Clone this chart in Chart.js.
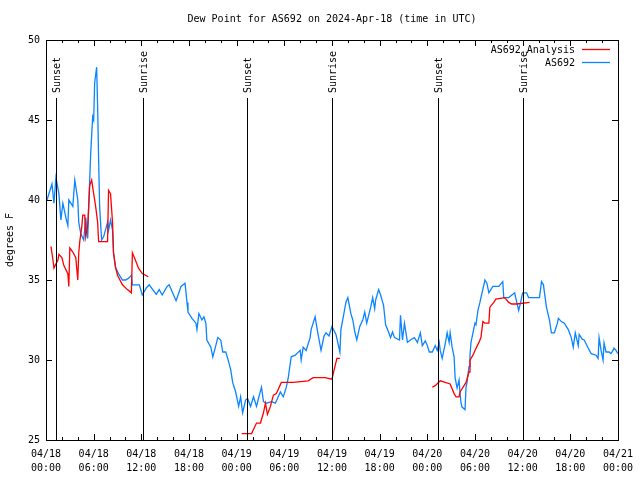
<!DOCTYPE html>
<html>
<head>
<meta charset="utf-8">
<style>
  html, body { margin: 0; padding: 0; background: #fff; }
  #wrap { width: 640px; height: 480px; }
</style>
<script src="https://cdn.jsdelivr.net/npm/chart.js@4/dist/chart.umd.min.js"></script>
</head>
<body>
<div id="wrap"><canvas id="chart" width="640" height="480"></canvas></div>
<script>
'use strict';

// hours since 2024-04-18 00:00 UTC
var blueHours = [0.125, 0.75, 1.0, 1.25, 1.625, 1.875, 2.125, 2.5, 2.75, 2.875, 3.375, 3.625, 4.0, 4.125, 4.375, 4.75, 5.0, 5.25, 5.375, 5.625,
  5.875, 6.0, 6.125, 6.375, 6.5, 6.625, 6.75, 7.0, 7.25, 7.75, 7.875, 8.125, 8.375, 8.5, 8.75, 9.125, 9.625, 10, 10.375, 10.75,
  10.875, 11.75, 12.125, 12.625, 13, 13.875, 14.25, 14.625, 15.25, 15.5, 16.375, 17, 17.5, 17.75, 17.875, 18.375, 18.875, 19, 19.25, 19.625,
  19.875, 20.125, 20.25, 20.75, 21, 21.375, 21.625, 22, 22.25, 22.625, 22.875, 23.25, 23.5, 23.875, 24.25, 24.5, 24.75, 25.125, 25.375, 25.75,
  26.125, 26.5, 26.75, 27.125, 27.375, 27.75, 28.375, 28.875, 29.5, 29.875, 30.25, 30.5, 30.75, 30.875, 31.375, 32, 32.125, 32.375, 32.75, 33.25,
  33.375, 33.875, 34.25, 34.625, 35, 35.25, 35.625, 36, 36.5, 37, 37.125, 37.5, 37.75, 38, 38.375, 38.625, 38.875, 39.125, 39.5, 39.875,
  40.125, 40.375, 40.875, 41.125, 41.375, 41.5, 41.875, 42.125, 42.5, 42.75, 43, 43.375, 43.625, 43.875, 44.5, 44.625, 44.875, 45.125, 45.5, 46,
  46.375, 46.75, 47.125, 47.375, 47.75, 48, 48.25, 48.625, 49, 49.25, 49.5, 49.625, 49.875, 50.25, 50.5, 50.75, 50.875, 51.125, 51.375, 51.5,
  51.75, 52, 52.125, 52.25, 52.375, 52.75, 52.875, 53, 53.25, 53.375, 53.5, 53.75, 54, 54.125, 54.375, 54.625, 54.75, 55.125, 55.25, 55.5,
  55.75, 56, 56.25, 57, 57.5, 57.625, 58.25, 59, 59.125, 59.5, 59.75, 60, 60.5, 60.75, 62.125, 62.375, 62.625, 62.75, 63, 63.375,
  63.625, 64, 64.375, 64.5, 64.875, 65.25, 65.75, 66.125, 66.375, 66.625, 67, 67.125, 67.5, 67.75, 68.25, 68.625, 69.25, 69.5, 69.625, 69.875,
  70.125, 70.25, 70.5, 70.875, 71.125, 71.375, 71.5, 71.75, 72];
var blueValues = [40, 41, 39.8, 41.4, 40.4, 38.75, 39.8, 38.9, 38.4, 40, 39.6, 41.25, 40, 38.6, 37.9, 37.5, 38.9, 37.6, 39.6, 42.9,
  45.2, 45, 47.3, 48.3, 45.8, 42.5, 39.6, 37.5, 37.7, 38.6, 38.1, 38.75, 38.1, 36.7, 35.8, 35.4, 35, 35, 35.1, 35.3,
  34.7, 34.7, 34.06, 34.5, 34.7, 34.1, 34.4, 34.06, 34.6, 34.7, 33.7, 34.6, 34.8, 33.6, 33, 32.6, 32.3, 31.9, 32.9, 32.5,
  32.7, 32.3, 31.25, 30.8, 30.2, 30.9, 31.4, 31.25, 30.5, 30.5, 30.1, 29.4, 28.6, 28, 27.1, 27.7, 26.7, 27.5, 27.6, 27.1,
  27.7, 27.1, 27.6, 28.3, 27.4, 27.3, 27.4, 27.3, 28, 27.7, 28.3, 28.9, 29.8, 30.2, 30.3, 30.6, 30, 30.8, 30.6, 31.4,
  31.9, 32.7, 31.6, 30.6, 31.5, 31.7, 31.5, 32.1, 31.6, 30.5, 31.9, 32.9, 33.6, 33.9, 32.9, 32.5, 31.75, 31.25, 32.1, 32.5,
  33, 32.3, 33.3, 33.9, 33.2, 33.75, 34.4, 34.06, 33.4, 32.2, 31.9, 31.4, 31.75, 31.4, 31.25, 32.8, 31.25, 32.3, 31.1, 31.3,
  31.4, 31.1, 31.7, 30.9, 31.2, 30.9, 30.5, 30.5, 30.9, 30.6, 31.1, 30.6, 30.1, 31, 31.7, 31.1, 31.7, 30.8, 30.2, 28.9,
  28.25, 28.75, 27.9, 27.3, 27.06, 26.9, 28.3, 28.6, 29.6, 30.3, 31.1, 31.7, 32.3, 32.2, 33.1, 33.6, 33.9, 34.7, 35, 34.8,
  34.2, 34.4, 34.6, 34.6, 34.9, 33.9, 33.9, 34.2, 33.9, 33.1, 33.6, 34.2, 34.2, 33.9, 33.9, 34.9, 34.7, 34.2, 33.3, 32.5,
  31.7, 31.7, 32.3, 32.6, 32.4, 32.3, 31.9, 31.4, 30.8, 31.7, 30.9, 31.6, 31.3, 31.25, 30.75, 30.4, 30.3, 30.1, 31.4, 30.6,
  30, 31.06, 30.5, 30.5, 30.4, 30.6, 30.75, 30.6, 30.4];

// null values break the analysis line into its three runs
var redHours = [0.625, 0.875, 1.0, 1.5, 1.625, 2.0, 2.25, 2.75, 2.875, 3.0, 3.375, 3.75, 4.0, 4.125, 4.25, 4.5, 4.625, 4.875, 5.0, 5.25,
  5.375, 5.5, 5.75, 5.875, 6.25, 6.5, 6.625, 7.75, 7.875, 8.125, 8.375, 8.5, 8.75, 9.0, 9.625, 10.25, 10.75, 10.875, 11.25, 11.625,
  12.125, 12.875, 18,
  24.625, 25.875, 26.5, 27, 27.375, 27.625, 27.875, 28.25, 28.625, 29, 29.625, 31.125, 33, 33.625, 35.125, 36, 36.375, 36.625, 37, 42,
  48.625, 49, 49.625, 50.25, 50.875, 51.375, 51.625, 52, 52.125, 52.625, 52.875, 53.25, 53.375, 53.75, 54, 54.5, 54.75, 55, 55.25, 55.75,
  55.875, 56.375, 56.625, 57.75, 58.25, 58.625, 59.25, 60.875];
var redValues = [37.1, 36.25, 35.75, 36.25, 36.6, 36.4, 35.9, 35.4, 34.6, 37, 36.75, 36.4, 35, 36.7, 37.4, 38.3, 39.06, 39.06, 37.7, 38.4,
  39.6, 40.9, 41.25, 40.8, 39.6, 38.6, 37.4, 37.4, 40.6, 40.4, 38.6, 36.7, 35.8, 35.3, 34.7, 34.4, 34.2, 36.7, 36.25, 35.75,
  35.4, 35.2, null,
  25.4, 25.4, 26.06, 26.06, 26.7, 27.3, 26.6, 27.1, 27.8, 27.9, 28.6, 28.6, 28.7, 28.9, 28.9, 28.8, 29.6, 30.1, 30.1, null,
  28.3, 28.4, 28.7, 28.6, 28.5, 27.9, 27.7, 27.7, 28, 28.4, 28.6, 29.25, 30, 30.3, 30.6, 31.1, 31.4, 32.4, 32.3, 32.3,
  33.3, 33.6, 33.8, 33.9, 33.6, 33.5, 33.5, 33.6];

var eventHours = [1.25, 12.17, 25.29, 36.0, 49.33, 60.04];
var eventLabels = ['Sunset', 'Sunrise', 'Sunset', 'Sunrise', 'Sunset', 'Sunrise'];

var xTicks = [0, 6, 12, 18, 24, 30, 36, 42, 48, 54, 60, 66, 72];
var yTicks = [25, 30, 35, 40, 45, 50];

var FONT = '10px "DejaVu Sans Mono", "Liberation Mono", monospace';

function zip(xs, ys) {
    return xs.map(function(x, i) { return { x: x, y: ys[i] }; });
}

function tickLabel(h) {
    var day = 18 + Math.floor(h / 24);
    var hh = h % 24;
    return ['04/' + day, (hh < 10 ? '0' : '') + hh + ':00'];
}

// border, inward tics, sun events, legend and titles (gnuplot look)
var gnuFrame = {
    id: 'gnuFrame',
    afterDraw: function(chart) {
        var ctx = chart.ctx;
        var a = chart.chartArea;
        var xs = chart.scales.x;
        var ys = chart.scales.y;
        var L = Math.round(a.left), R = Math.round(a.right), T = Math.round(a.top), B = Math.round(a.bottom);

        ctx.save();
        ctx.strokeStyle = '#000';
        ctx.lineWidth = 1;
        ctx.strokeRect(L + 0.5, T + 0.5, R - L, B - T);

        ctx.beginPath();
        for (var h = 0; h <= 72; h += 2) {
            var px = Math.round(xs.getPixelForValue(h)) + 0.5;
            var len = (h % 6 === 0) ? 6 : 3;
            ctx.moveTo(px, B); ctx.lineTo(px, B - len);
            ctx.moveTo(px, T); ctx.lineTo(px, T + len);
        }
        yTicks.forEach(function(v) {
            var py = Math.round(ys.getPixelForValue(v)) + 0.5;
            ctx.moveTo(L, py); ctx.lineTo(L + 6, py);
            ctx.moveTo(R, py); ctx.lineTo(R - 6, py);
        });
        ctx.stroke();

        // sunrise / sunset markers
        ctx.font = FONT;
        ctx.fillStyle = '#000';
        eventHours.forEach(function(h, i) {
            var px = Math.round(xs.getPixelForValue(h)) + 0.5;
            ctx.beginPath();
            ctx.moveTo(px, 98);
            ctx.lineTo(px, B);
            ctx.stroke();
            ctx.save();
            ctx.translate(px + 1, 93);
            ctx.rotate(-Math.PI / 2);
            ctx.textAlign = 'left';
            ctx.textBaseline = 'middle';
            ctx.fillText(eventLabels[i], 0, 0);
            ctx.restore();
        });

        // legend
        ctx.textAlign = 'right';
        ctx.textBaseline = 'middle';
        chart.data.datasets.forEach(function(ds, i) {
            var ly = 50 + i * 13;
            ctx.fillStyle = '#000';
            ctx.fillText(ds.label, 575, ly);
            ctx.strokeStyle = ds.borderColor;
            ctx.lineWidth = 1.3;
            ctx.beginPath();
            ctx.moveTo(582, ly - 0.5);
            ctx.lineTo(610, ly - 0.5);
            ctx.stroke();
        });

        // title and y axis title
        ctx.fillStyle = '#000';
        ctx.textAlign = 'center';
        ctx.fillText('Dew Point for AS692 on 2024-Apr-18 (time in UTC)', (L + R) / 2, 19);
        ctx.save();
        ctx.translate(10, (T + B) / 2);
        ctx.rotate(-Math.PI / 2);
        ctx.fillText('degrees F', 0, 0);
        ctx.restore();
        ctx.restore();
    }
};

new Chart(document.getElementById('chart'), {
    type: 'line',
    data: {
        datasets: [{
            label: 'AS692 Analysis',
            data: zip(redHours, redValues),
            borderColor: '#ff0000',
            borderWidth: 1.3,
            pointRadius: 0,
            tension: 0,
            spanGaps: false
        }, {
            label: 'AS692',
            data: zip(blueHours, blueValues),
            borderColor: '#0a84ff',
            borderWidth: 1.3,
            pointRadius: 0,
            tension: 0
        }]
    },
    options: {
        responsive: false,
        animation: false,
        devicePixelRatio: 1,
        layout: { padding: { left: 0, right: 18, top: 40, bottom: 0 } },
        plugins: { legend: { display: false }, title: { display: false }, tooltip: { enabled: false } },
        scales: {
            x: {
                type: 'linear',
                min: 0,
                max: 72,
                afterFit: function(s) { s.height = 40; },
                afterBuildTicks: function(s) { s.ticks = xTicks.map(function(v) { return { value: v }; }); },
                grid: { display: false, drawTicks: false },
                border: { display: false },
                ticks: {
                    autoSkip: false,
                    maxRotation: 0,
                    padding: 7,
                    color: '#000',
                    font: { family: '"DejaVu Sans Mono", monospace', size: 10, lineHeight: 1.4 },
                    callback: function(v) { return tickLabel(v); }
                }
            },
            y: {
                min: 25,
                max: 50,
                afterFit: function(s) { s.width = 46; },
                afterBuildTicks: function(s) { s.ticks = yTicks.map(function(v) { return { value: v }; }); },
                grid: { display: false, drawTicks: false },
                border: { display: false },
                ticks: {
                    padding: 6,
                    color: '#000',
                    font: { family: '"DejaVu Sans Mono", monospace', size: 10 }
                }
            }
        }
    },
    plugins: [gnuFrame]
});
</script>
</body>
</html>
